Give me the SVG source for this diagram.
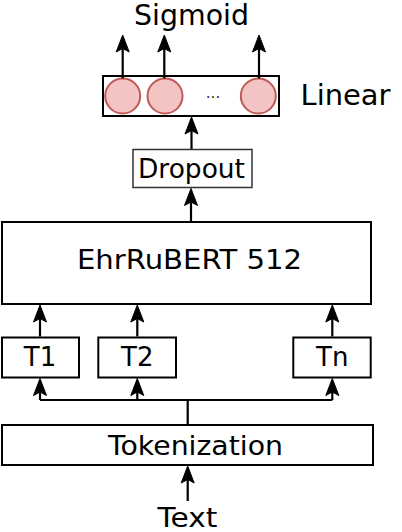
<svg xmlns="http://www.w3.org/2000/svg" width="402" height="532" viewBox="0 0 402 532">
<style>
.box{fill:#fff;stroke:#000;stroke-width:2}
.thin{fill:#fff;stroke:#333;stroke-width:1.5}
.neuron{fill:#f4c4c4;stroke:#c05a56;stroke-width:2}
.lbl{font-family:"DejaVu Sans",sans-serif;font-size:26px;fill:#000;text-anchor:middle}
.con{stroke:#000;stroke-width:2.2;fill:none}
</style>
<defs>
<path id="ah" fill="#000" stroke="#000" stroke-width="1" stroke-linejoin="miter" d="M0,0 L-6.5,17 L0,13.5 L6.5,17 Z"/>
</defs>
<g id="sigmoid"><text class="lbl" x="191.5" y="24.5" style="font-size:27.5px" textLength="115" lengthAdjust="spacingAndGlyphs">Sigmoid</text></g>
<g id="linear">
<rect class="box" x="103" y="76" width="176" height="40"/>
<circle class="neuron" cx="122.7" cy="96" r="17.5"/>
<circle class="neuron" cx="165" cy="96" r="17.5"/>
<circle class="neuron" cx="258.3" cy="96" r="17.5"/>
<text x="213" y="98" style="font-family:'DejaVu Sans',sans-serif;font-size:15px;text-anchor:middle;fill:#333">...</text>
<text x="300.5" y="105" style="font-family:'DejaVu Sans',sans-serif;font-size:28px;fill:#000" textLength="90" lengthAdjust="spacingAndGlyphs">Linear</text>
</g>
<g id="dropout">
<rect class="thin" x="133" y="149.5" width="119" height="38"/>
<text class="lbl" x="191.5" y="177.7" textLength="107" lengthAdjust="spacingAndGlyphs">Dropout</text>
</g>
<g id="ehrrubert">
<rect class="box" x="2" y="222" width="369" height="82"/>
<text class="lbl" x="189.5" y="269.3" style="font-size:27px" textLength="225" lengthAdjust="spacingAndGlyphs">EhrRuBERT 512</text>
</g>
<g id="t1"><rect class="box" x="2" y="337.5" width="77" height="40"/><text class="lbl" x="40" y="365.7">T1</text></g>
<g id="t2"><rect class="box" x="98.3" y="337.5" width="77.7" height="40"/><text class="lbl" x="137.3" y="365.7">T2</text></g>
<g id="tn"><rect class="box" x="293.3" y="337.5" width="77.4" height="40"/><text class="lbl" x="332.3" y="365.7">Tn</text></g>
<g id="tokenization">
<rect class="box" x="2" y="425" width="371" height="40"/>
<text class="lbl" x="195.5" y="455" style="font-size:27px" textLength="175" lengthAdjust="spacingAndGlyphs">Tokenization</text>
</g>
<g id="text"><text class="lbl" x="187.5" y="527" textLength="60" lengthAdjust="spacingAndGlyphs">Text</text></g>
<g id="connectors">
<line class="con" x1="122.7" y1="78.5" x2="122.7" y2="47"/><use href="#ah" x="122.7" y="35"/>
<line class="con" x1="164.3" y1="78.5" x2="164.3" y2="47"/><use href="#ah" x="164.3" y="35"/>
<line class="con" x1="259" y1="78.5" x2="259" y2="47"/><use href="#ah" x="259" y="35"/>
<line class="con" x1="191.5" y1="149" x2="191.5" y2="129"/><use href="#ah" x="191.5" y="117"/>
<line class="con" x1="191" y1="221" x2="191" y2="200"/><use href="#ah" x="191" y="188.5"/>
<line class="con" x1="40" y1="336.5" x2="40" y2="317"/><use href="#ah" x="40" y="305"/>
<line class="con" x1="137.3" y1="336.5" x2="137.3" y2="317"/><use href="#ah" x="137.3" y="305"/>
<line class="con" x1="332.3" y1="336.5" x2="332.3" y2="317"/><use href="#ah" x="332.3" y="305"/>
<polyline class="con" points="40,400 332.3,400"/>
<line class="con" x1="40" y1="400" x2="40" y2="390"/><use href="#ah" x="40" y="378.5"/>
<line class="con" x1="137.3" y1="400" x2="137.3" y2="390"/><use href="#ah" x="137.3" y="378.5"/>
<line class="con" x1="332.3" y1="400" x2="332.3" y2="390"/><use href="#ah" x="332.3" y="378.5"/>
<line class="con" x1="187.7" y1="424" x2="187.7" y2="400"/>
<line class="con" x1="187.7" y1="501" x2="187.7" y2="478"/><use href="#ah" x="187.7" y="466"/>
</g>
</svg>
